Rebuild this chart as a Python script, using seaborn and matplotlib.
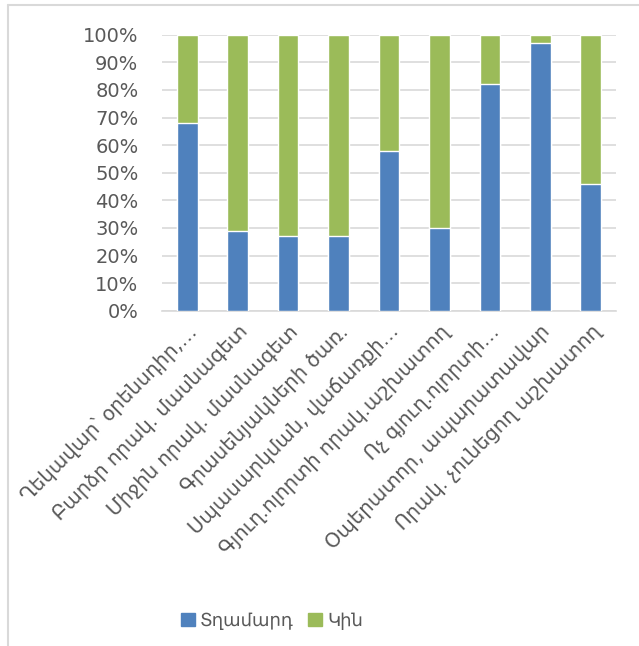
import matplotlib
matplotlib.use("Agg")
import matplotlib.pyplot as plt
from matplotlib.lines import Line2D
from matplotlib.patches import Patch
from matplotlib.ticker import PercentFormatter
import pandas as pd
import seaborn as sns

# occupation groups (Armenian) and share of men / women, %
occupations = [
    "Ղեկավար՝ օրենսդիր,…",
    "Բարձր որակ. մասնագետ",
    "Միջին որակ. մասնագետ",
    "Գրասենյակների ծառ.",
    "Սպասարկման, վաճառքի…",
    "Գյուղ.ոլորտի որակ.աշխատող",
    "Ոչ գյուղ.ոլորտի…",
    "Օպերատոր, ապարատավար",
    "Որակ. չունեցող աշխատող",
]
men = [68, 29, 27, 27, 58, 30, 82, 97, 46]
women = [32, 71, 73, 73, 42, 70, 18, 3, 54]
series_names = ["Տղամարդ", "Կին"]

BLUE = "#4F81BD"
GREEN = "#9BBB59"
GRID = "#D9D9D9"
TEXT = "#595959"

df = pd.DataFrame({"occupation": occupations, "men": men, "women": women})
df["total"] = df["men"] + df["women"]

sns.set_style("white")
plt.rcParams["font.family"] = ["DejaVu Sans"]

fig = plt.figure(figsize=(6.39, 6.46), dpi=100)
ax = fig.add_axes([162 / 639, 1 - 310.7 / 646, 454 / 639, 276 / 646])

# stacked: full bar in green, men's part over it in blue
sns.barplot(data=df, x="occupation", y="total", color=GREEN, width=0.41,
            saturation=1, ax=ax, zorder=2)
sns.barplot(data=df, x="occupation", y="men", color=BLUE, width=0.41,
            saturation=1, ax=ax, zorder=3)

ax.set_ylim(0, 100)
ax.set_xlim(-0.5, len(occupations) - 0.5)
ax.set_yticks(range(0, 101, 10))
ax.yaxis.set_major_formatter(PercentFormatter(100, decimals=0))
ax.grid(axis="y", color=GRID, linewidth=1.2, zorder=0)
ax.set_axisbelow(True)
for s in ["top", "right", "left"]:
    ax.spines[s].set_visible(False)
ax.spines["bottom"].set_color(GRID)
ax.spines["bottom"].set_linewidth(1.2)
ax.tick_params(axis="y", length=0, colors=TEXT, labelsize=14, pad=17)
ax.tick_params(axis="x", length=0, colors=TEXT, pad=8)
ax.set_xlabel("")
ax.set_ylabel("")
ax.set_xticks(range(len(occupations)))
ax.set_xticklabels(occupations, rotation=45, ha="right", rotation_mode="anchor",
                   fontsize=14.2, color=TEXT)

handles = [Patch(color=BLUE, label=series_names[0]),
           Patch(color=GREEN, label=series_names[1])]
fig.legend(handles=handles, loc="center", bbox_to_anchor=(272 / 639, 1 - 621 / 646),
           ncol=2, frameon=False, fontsize=13, labelcolor=TEXT,
           handlelength=0.75, handleheight=0.75, handletextpad=0.3, columnspacing=0.8)

# chart frame (left and top edges visible in the crop)
fig.add_artist(Line2D([8 / 639, 8 / 639], [0, 1 - 5 / 646], color=GRID, linewidth=1.5))
fig.add_artist(Line2D([8 / 639, 1], [1 - 5 / 646, 1 - 5 / 646], color=GRID, linewidth=1.5))

fig.savefig("out.png", dpi=100)
